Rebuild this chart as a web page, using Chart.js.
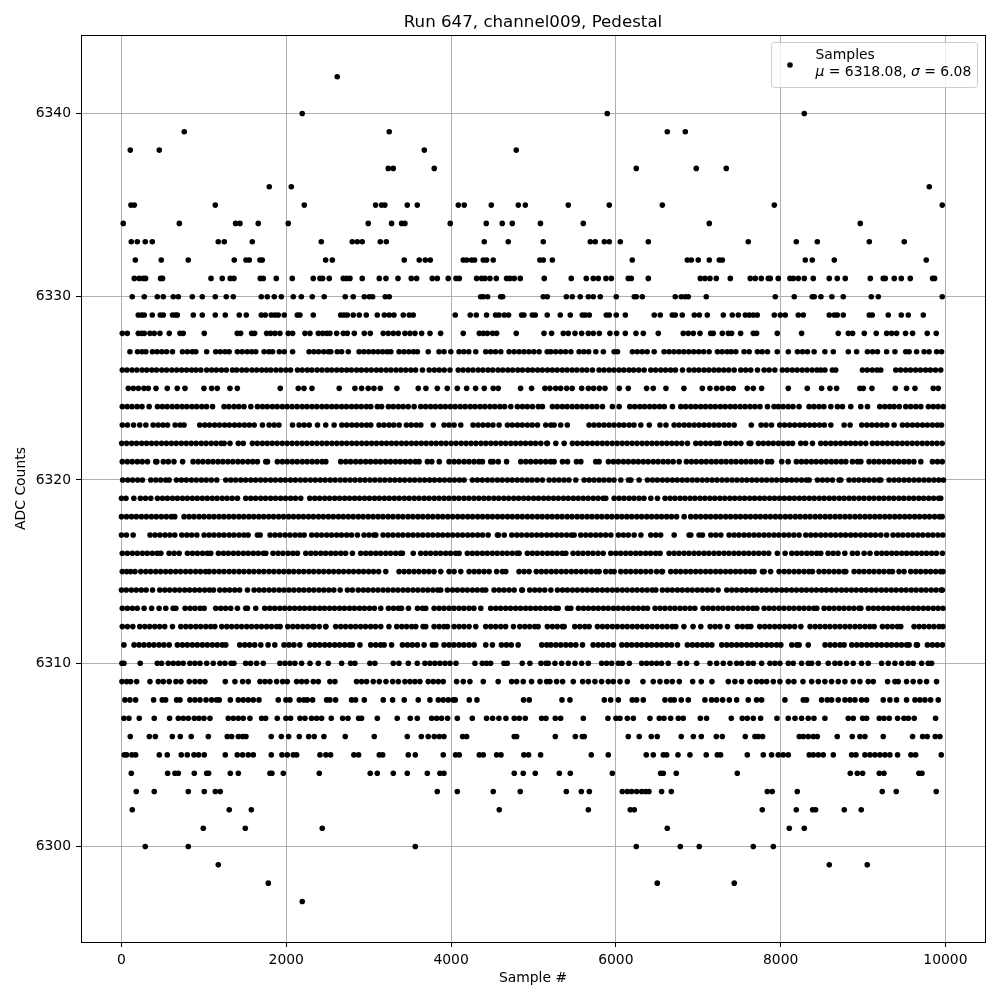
<!DOCTYPE html>
<html>
<head>
<meta charset="utf-8">
<title>Run 647, channel009, Pedestal</title>
<script src="https://cdn.jsdelivr.net/npm/chart.js@4/dist/chart.umd.min.js"></script>
<style>
body { margin: 0; background: #fff; }
canvas { display: block; }
</style>
</head>
<body>
<canvas id="pedestalChart" width="1000" height="1000"></canvas>
<script>
// Tick labels
const xTicks = [0, 2000, 4000, 6000, 8000, 10000];
const yTicks = [6300, 6310, 6320, 6330, 6340];

// Sample numbers, one array per ADC level
const adc6342 = [2619];
const adc6340 = [2194, 5896, 8287];
const adc6339 = [762, 3250, 6624, 6843];
const adc6338 = [107, 459, 3675, 4791];
const adc6337 = [3238, 3299, 3796, 6248, 6976, 7340];
const adc6336 = [1794, 2061, 9804];
const adc6335 = [115, 156, 1139, 2219, 3084, 3157, 3197, 3469, 3590, 4088, 4160, 4488, 4816, 4901, 5423, 5920, 6564, 7923, 9961];
const adc6334 = [22, 702, 1385, 1438, 1660, 2024, 2995, 3278, 3400, 3440, 3990, 4427, 4621, 4743, 5085, 5605, 7134, 8966];
const adc6333 = [119, 192, 289, 374, 1175, 1248, 1588, 2425, 2801, 2862, 2922, 3141, 3214, 4403, 4694, 5119, 5690, 5750, 5860, 5920, 6054, 6394, 7607, 8190, 8445, 9076, 9500];
const adc6332 = [168, 483, 811, 1369, 1511, 1551, 1681, 1709, 2478, 2559, 3432, 3614, 3687, 3748, 4148, 4189, 4249, 4286, 4391, 4431, 4512, 5078, 5119, 5229, 6199, 6867, 6916, 7000, 7134, 7255, 7292, 8299, 8384, 8651, 9767];
const adc6331 = [156, 216, 265, 293, 475, 499, 1087, 1223, 1320, 1365, 1685, 1721, 1879, 2073, 2328, 2409, 2441, 2522, 2692, 2732, 2773, 2922, 3129, 3210, 3356, 3517, 3582, 3772, 3833, 3966, 4060, 4100, 4310, 4371, 4411, 4472, 4549, 4674, 4714, 4767, 4840, 5131, 5459, 5641, 5726, 5787, 5880, 5945, 6151, 6187, 6394, 7025, 7081, 7142, 7219, 7389, 7631, 7692, 7765, 7850, 7874, 7971, 8113, 8153, 8214, 8287, 8396, 8590, 8687, 8784, 9088, 9245, 9270, 9379, 9464, 9573, 9844, 9868];
const adc6330 = [131, 277, 435, 508, 629, 690, 860, 981, 1139, 1272, 1357, 1697, 1770, 1855, 1940, 2085, 2183, 2316, 2461, 2716, 2813, 2947, 3008, 3048, 3202, 3250, 4359, 4391, 4444, 4602, 4626, 5119, 5168, 5399, 5471, 5568, 5666, 5726, 5811, 6005, 6224, 6248, 6321, 6721, 6794, 6843, 6879, 7097, 7935, 8165, 8384, 8408, 8489, 8622, 8760, 9100, 9185, 9961];
const adc6329 = [204, 245, 277, 374, 471, 508, 620, 656, 678, 872, 981, 1139, 1260, 1430, 1515, 1697, 1746, 1818, 1863, 1903, 1976, 2134, 2166, 2328, 2660, 2700, 2741, 2813, 2886, 2971, 3105, 3190, 3250, 3307, 3420, 3493, 3541, 4051, 4233, 4306, 4431, 4540, 4581, 4646, 4698, 4856, 4884, 4986, 5022, 5167, 5326, 5447, 5593, 5629, 5678, 5884, 5920, 6005, 6115, 6466, 6539, 6685, 6721, 6806, 6952, 7013, 7110, 7304, 7413, 7486, 7571, 7619, 7668, 7716, 7923, 7996, 8056, 8214, 8275, 8590, 8651, 8687, 8760, 9076, 9112, 9306, 9464, 9549, 9731];
const adc6328 = [10, 71, 204, 245, 277, 346, 398, 467, 580, 710, 750, 1005, 1405, 1446, 1580, 1616, 1762, 1810, 1863, 1923, 2024, 2077, 2227, 2288, 2389, 2441, 2490, 2530, 2611, 2692, 2741, 2826, 2947, 3020, 3177, 3238, 3299, 3360, 3440, 3501, 3562, 3643, 3744, 3873, 4148, 4343, 4391, 4440, 4504, 4553, 4791, 5128, 5220, 5362, 5423, 5504, 5585, 5666, 5726, 5799, 5928, 6009, 6115, 6244, 6333, 6515, 6818, 6879, 6940, 7021, 7150, 7182, 7292, 7365, 7405, 7514, 7668, 7708, 7959, 8254, 8699, 8821, 8873, 9015, 9160, 9286, 9346, 9407, 9516, 9601, 9779, 9888];
const adc6327 = [103, 195, 250, 296, 376, 432, 490, 548, 619, 740, 800, 860, 902, 1034, 1144, 1200, 1258, 1307, 1407, 1465, 1525, 1580, 1630, 1731, 1790, 1833, 1915, 1976, 2077, 2277, 2335, 2392, 2455, 2510, 2541, 2619, 2672, 2753, 2884, 2942, 3000, 3058, 3115, 3170, 3225, 3269, 3369, 3428, 3487, 3545, 3592, 3723, 3854, 3915, 3997, 4097, 4155, 4215, 4300, 4421, 4480, 4540, 4604, 4704, 4765, 4825, 4885, 4945, 5005, 5069, 5167, 5210, 5270, 5330, 5390, 5454, 5554, 5612, 5670, 5757, 5848, 5979, 6020, 6201, 6260, 6320, 6380, 6465, 6585, 6645, 6705, 6765, 6825, 6885, 6945, 7005, 7065, 7132, 7233, 7290, 7350, 7400, 7456, 7556, 7618, 7718, 7775, 7840, 7959, 8093, 8204, 8265, 8325, 8406, 8537, 8639, 8821, 8922, 9053, 9115, 9175, 9286, 9387, 9518, 9559, 9650, 9741, 9802, 9893, 9953];
const adc6326 = [10, 66, 128, 187, 250, 306, 368, 425, 489, 548, 611, 670, 731, 790, 851, 905, 963, 1034, 1095, 1152, 1214, 1273, 1347, 1398, 1461, 1518, 1583, 1641, 1702, 1759, 1812, 1875, 1934, 1996, 2052, 2136, 2194, 2256, 2311, 2374, 2433, 2495, 2551, 2613, 2672, 2733, 2790, 2854, 2911, 2973, 3032, 3094, 3151, 3213, 3270, 3332, 3391, 3450, 3512, 3570, 3653, 3735, 3797, 3856, 3917, 3987, 4087, 4146, 4208, 4266, 4329, 4387, 4449, 4506, 4570, 4627, 4689, 4747, 4810, 4867, 4931, 4988, 5050, 5108, 5170, 5229, 5288, 5350, 5408, 5470, 5527, 5590, 5648, 5716, 5797, 5857, 5919, 5977, 6039, 6097, 6159, 6216, 6278, 6343, 6424, 6483, 6545, 6604, 6665, 6723, 6809, 6889, 6950, 7008, 7070, 7129, 7191, 7249, 7310, 7370, 7436, 7516, 7576, 7637, 7719, 7799, 7860, 7929, 8021, 8080, 8141, 8200, 8262, 8320, 8382, 8440, 8487, 8537, 8628, 8669, 8992, 9051, 9112, 9170, 9215, 9397, 9456, 9518, 9576, 9638, 9697, 9759, 9817, 9879, 9943];
const adc6325 = [83, 144, 205, 273, 326, 419, 556, 677, 771, 1001, 1094, 1163, 1317, 1406, 1927, 2146, 2215, 2312, 2643, 2833, 2914, 2995, 3064, 3141, 3343, 3602, 3695, 3833, 3954, 4076, 4189, 4298, 4403, 4512, 4573, 4844, 4977, 5139, 5200, 5270, 5330, 5403, 5470, 5585, 5666, 5730, 5800, 5868, 6042, 6151, 6373, 6454, 6608, 6826, 7049, 7142, 7223, 7290, 7364, 7425, 7595, 7668, 7769, 8093, 8323, 8497, 8598, 8679, 8962, 9003, 9108, 9391, 9528, 9630, 9852, 9913];
const adc6324 = [10, 70, 128, 190, 249, 336, 437, 496, 554, 616, 675, 736, 793, 855, 913, 975, 1033, 1105, 1245, 1303, 1366, 1424, 1487, 1570, 1650, 1711, 1769, 1832, 1890, 1952, 2010, 2071, 2131, 2193, 2251, 2312, 2371, 2433, 2491, 2552, 2610, 2672, 2730, 2792, 2851, 2910, 2973, 3026, 3106, 3157, 3240, 3298, 3360, 3418, 3480, 3552, 3632, 3691, 3752, 3810, 3872, 3931, 3992, 4050, 4112, 4171, 4233, 4291, 4352, 4410, 4472, 4531, 4593, 4650, 4725, 4805, 4866, 4925, 4988, 5059, 5109, 5230, 5289, 5350, 5408, 5470, 5529, 5590, 5648, 5710, 5769, 5838, 5958, 6040, 6169, 6228, 6290, 6348, 6410, 6469, 6530, 6588, 6687, 6788, 6847, 6909, 6967, 7029, 7088, 7149, 7207, 7269, 7328, 7389, 7447, 7509, 7568, 7629, 7688, 7749, 7840, 7920, 7971, 8030, 8092, 8150, 8224, 8345, 8404, 8466, 8525, 8609, 8689, 8750, 8851, 8972, 9054, 9203, 9264, 9323, 9377, 9440, 9518, 9578, 9640, 9701, 9793, 9853, 9911, 9973];
const adc6323 = [10, 72, 147, 222, 296, 384, 445, 503, 559, 651, 712, 760, 950, 1011, 1069, 1131, 1190, 1252, 1310, 1372, 1430, 1492, 1551, 1611, 1711, 1792, 1853, 1911, 2076, 2156, 2217, 2279, 2379, 2479, 2581, 2674, 2733, 2795, 2854, 2916, 2975, 3026, 3126, 3185, 3247, 3305, 3370, 3458, 3517, 3579, 3633, 3784, 3915, 3975, 4037, 4118, 4267, 4328, 4388, 4448, 4508, 4583, 4684, 4744, 4806, 4864, 4926, 4985, 5049, 5149, 5211, 5251, 5330, 5411, 5675, 5735, 5795, 5856, 5917, 5977, 6040, 6098, 6161, 6220, 6303, 6406, 6535, 6608, 6707, 6767, 6830, 6888, 6950, 7010, 7071, 7130, 7192, 7250, 7312, 7371, 7436, 7644, 7763, 7822, 7889, 7989, 8049, 8110, 8170, 8232, 8290, 8352, 8411, 8472, 8530, 8609, 8770, 8843, 8984, 9046, 9107, 9167, 9228, 9288, 9377, 9478, 9538, 9600, 9660, 9721, 9780, 9842, 9902, 9952];
const adc6322 = [3, 62, 124, 183, 245, 304, 365, 424, 486, 545, 606, 665, 727, 786, 847, 906, 968, 1027, 1089, 1148, 1209, 1246, 1317, 1418, 1478, 1589, 1648, 1710, 1769, 1830, 1889, 1951, 2010, 2071, 2130, 2192, 2251, 2313, 2372, 2433, 2492, 2554, 2613, 2674, 2733, 2795, 2854, 2916, 2975, 3036, 3095, 3157, 3216, 3277, 3336, 3398, 3457, 3519, 3578, 3639, 3698, 3760, 3819, 3880, 3939, 4001, 4060, 4122, 4181, 4242, 4301, 4363, 4422, 4483, 4542, 4604, 4663, 4725, 4784, 4845, 4904, 4966, 5025, 5089, 5160, 5170, 5271, 5373, 5473, 5532, 5594, 5653, 5715, 5774, 5835, 5894, 5956, 6015, 6077, 6136, 6197, 6256, 6318, 6377, 6438, 6497, 6559, 6618, 6679, 6738, 6800, 6869, 6970, 7029, 7091, 7150, 7212, 7254, 7334, 7393, 7455, 7517, 7617, 7638, 7730, 7789, 7851, 7910, 7972, 8031, 8092, 8144, 8244, 8303, 8386, 8487, 8546, 8608, 8667, 8729, 8788, 8849, 8908, 8970, 9033, 9114, 9173, 9235, 9294, 9356, 9415, 9476, 9535, 9597, 9656, 9718, 9777, 9838, 9897, 9960];
const adc6321 = [10, 72, 131, 193, 252, 316, 416, 429, 508, 568, 637, 742, 869, 930, 989, 1051, 1110, 1172, 1231, 1292, 1351, 1413, 1472, 1534, 1593, 1650, 1751, 1772, 1892, 1953, 2012, 2074, 2133, 2195, 2254, 2315, 2374, 2436, 2480, 2661, 2722, 2781, 2843, 2902, 2964, 3023, 3084, 3143, 3205, 3264, 3326, 3385, 3446, 3505, 3567, 3612, 3713, 3766, 3857, 3976, 4037, 4096, 4158, 4217, 4279, 4338, 4381, 4481, 4510, 4573, 4674, 4846, 4907, 4966, 5028, 5087, 5149, 5208, 5251, 5352, 5413, 5522, 5575, 5756, 5797, 5910, 5971, 6030, 6092, 6151, 6213, 6272, 6333, 6392, 6454, 6513, 6575, 6634, 6695, 6768, 6856, 6917, 6976, 7038, 7097, 7159, 7218, 7279, 7338, 7400, 7459, 7521, 7580, 7641, 7700, 7762, 7840, 7890, 8013, 8091, 8191, 8252, 8311, 8373, 8432, 8494, 8553, 8615, 8674, 8735, 8791, 8871, 8933, 8973, 9073, 9134, 9193, 9255, 9314, 9376, 9435, 9496, 9555, 9617, 9701, 9842, 9903, 9961];
const adc6320 = [14, 76, 135, 197, 255, 356, 417, 476, 538, 579, 667, 728, 787, 849, 908, 970, 1029, 1091, 1157, 1266, 1327, 1386, 1448, 1507, 1569, 1628, 1689, 1748, 1810, 1869, 1931, 1990, 2051, 2110, 2172, 2231, 2293, 2352, 2413, 2472, 2534, 2593, 2655, 2714, 2775, 2834, 2896, 2955, 3016, 3075, 3137, 3196, 3258, 3317, 3378, 3437, 3499, 3558, 3620, 3679, 3740, 3799, 3861, 3920, 3982, 4041, 4102, 4158, 4259, 4320, 4379, 4441, 4500, 4562, 4621, 4683, 4742, 4803, 4862, 4924, 4983, 5045, 5109, 5190, 5251, 5310, 5372, 5431, 5514, 5615, 5676, 5735, 5797, 5856, 5918, 5977, 6060, 6153, 6182, 6282, 6383, 6444, 6503, 6565, 6624, 6686, 6745, 6806, 6865, 6927, 6986, 7048, 7107, 7168, 7227, 7289, 7348, 7410, 7469, 7530, 7589, 7651, 7710, 7771, 7830, 7892, 7951, 8013, 8072, 8133, 8192, 8254, 8313, 8346, 8446, 8507, 8566, 8629, 8709, 8730, 8830, 8891, 8950, 9012, 9071, 9133, 9192, 9215, 9316, 9377, 9436, 9498, 9557, 9619, 9678, 9740, 9799, 9860, 9919, 9975];
const adc6319 = [0, 55, 150, 230, 292, 356, 437, 498, 557, 619, 678, 740, 799, 861, 920, 982, 1041, 1102, 1161, 1223, 1282, 1344, 1408, 1508, 1569, 1628, 1690, 1749, 1811, 1870, 1932, 1991, 2052, 2111, 2176, 2285, 2346, 2405, 2467, 2526, 2588, 2647, 2709, 2768, 2829, 2888, 2950, 3009, 3071, 3130, 3191, 3250, 3312, 3371, 3433, 3492, 3553, 3612, 3674, 3733, 3795, 3854, 3916, 3975, 4036, 4095, 4157, 4216, 4278, 4337, 4398, 4457, 4519, 4578, 4640, 4699, 4761, 4820, 4881, 4940, 5002, 5061, 5123, 5182, 5243, 5302, 5364, 5423, 5485, 5544, 5605, 5664, 5726, 5785, 5847, 5878, 5979, 6040, 6099, 6161, 6220, 6282, 6341, 6424, 6505, 6597, 6658, 6717, 6779, 6838, 6900, 6959, 7021, 7080, 7141, 7200, 7262, 7321, 7383, 7442, 7503, 7562, 7624, 7683, 7745, 7804, 7866, 7925, 7986, 8045, 8107, 8166, 8228, 8287, 8348, 8407, 8469, 8528, 8590, 8649, 8711, 8770, 8831, 8890, 8952, 9011, 9073, 9132, 9193, 9252, 9314, 9373, 9435, 9494, 9556, 9615, 9676, 9735, 9797, 9856, 9918, 9943];
const adc6318 = [0, 61, 122, 181, 243, 302, 364, 423, 485, 544, 605, 647, 760, 821, 880, 942, 1001, 1063, 1122, 1184, 1243, 1304, 1363, 1425, 1484, 1546, 1605, 1667, 1726, 1787, 1846, 1908, 1967, 2029, 2088, 2149, 2208, 2270, 2329, 2391, 2450, 2512, 2571, 2633, 2692, 2753, 2812, 2874, 2933, 2995, 3054, 3115, 3174, 3236, 3295, 3357, 3416, 3478, 3537, 3598, 3657, 3719, 3778, 3840, 3899, 3960, 4019, 4081, 4140, 4202, 4261, 4323, 4382, 4443, 4502, 4564, 4623, 4685, 4744, 4805, 4864, 4926, 4985, 5047, 5106, 5168, 5227, 5288, 5347, 5409, 5468, 5530, 5589, 5651, 5710, 5771, 5830, 5892, 5951, 6013, 6072, 6133, 6192, 6254, 6313, 6375, 6434, 6496, 6555, 6616, 6675, 6737, 6829, 6909, 6970, 7029, 7091, 7150, 7212, 7271, 7333, 7392, 7453, 7512, 7574, 7633, 7695, 7754, 7816, 7875, 7936, 7995, 8057, 8116, 8178, 8237, 8298, 8357, 8419, 8478, 8540, 8599, 8661, 8720, 8781, 8840, 8902, 8961, 9023, 9082, 9143, 9202, 9264, 9323, 9385, 9444, 9506, 9565, 9626, 9685, 9747, 9806, 9868, 9927, 9960];
const adc6317 = [0, 60, 142, 347, 408, 467, 529, 588, 647, 732, 793, 852, 915, 1003, 1064, 1123, 1185, 1244, 1306, 1365, 1427, 1486, 1537, 1650, 1683, 1804, 1865, 1924, 1986, 2045, 2107, 2166, 2217, 2309, 2370, 2429, 2491, 2550, 2612, 2671, 2733, 2792, 2864, 2944, 3005, 3064, 3087, 3175, 3236, 3295, 3357, 3416, 3478, 3537, 3598, 3657, 3719, 3778, 3840, 3899, 3960, 4019, 4081, 4140, 4202, 4261, 4323, 4382, 4450, 4575, 4563, 4646, 4737, 4798, 4857, 4919, 4978, 5040, 5099, 5161, 5220, 5282, 5341, 5403, 5462, 5494, 5574, 5635, 5694, 5756, 5815, 5877, 5939, 6031, 6092, 6151, 6222, 6304, 6424, 6485, 6544, 6708, 6889, 6910, 7010, 7051, 7152, 7213, 7274, 7374, 7435, 7494, 7556, 7615, 7677, 7736, 7798, 7857, 7919, 7978, 8040, 8099, 8161, 8224, 8305, 8366, 8425, 8487, 8546, 8608, 8667, 8729, 8788, 8850, 8909, 8971, 9030, 9092, 9151, 9215, 9286, 9364, 9425, 9484, 9546, 9605, 9667, 9726, 9788, 9847, 9909, 9968];
const adc6316 = [10, 71, 133, 192, 254, 313, 375, 434, 478, 578, 639, 700, 801, 862, 921, 983, 1042, 1084, 1177, 1238, 1297, 1359, 1418, 1480, 1539, 1601, 1660, 1722, 1752, 1840, 1901, 1960, 2022, 2081, 2136, 2237, 2298, 2357, 2419, 2478, 2540, 2599, 2661, 2720, 2803, 2904, 2965, 3024, 3086, 3145, 3207, 3266, 3328, 3387, 3410, 3541, 3632, 3693, 3752, 3814, 3873, 3935, 3994, 4056, 4098, 4198, 4259, 4318, 4380, 4439, 4501, 4560, 4622, 4681, 4743, 4802, 4826, 4926, 4987, 5046, 5108, 5170, 5229, 5288, 5350, 5393, 5481, 5542, 5601, 5663, 5722, 5784, 5846, 5938, 5999, 6058, 6120, 6179, 6241, 6300, 6362, 6421, 6483, 6537, 6646, 6707, 6766, 6828, 6887, 6949, 7008, 7070, 7129, 7191, 7250, 7312, 7371, 7433, 7492, 7554, 7613, 7675, 7734, 7796, 7855, 7960, 8054, 8135, 8196, 8255, 8317, 8376, 8438, 8487, 8576, 8637, 8696, 8779, 8871, 8932, 9013, 9084, 9166, 9227, 9286, 9348, 9407, 9469, 9528, 9590, 9649, 9711, 9770, 9832, 9891, 9963];
const adc6315 = [10, 63, 111, 164, 234, 295, 354, 416, 475, 537, 596, 658, 717, 779, 838, 900, 959, 1021, 1064, 1124, 1185, 1244, 1306, 1365, 1427, 1486, 1548, 1607, 1669, 1728, 1790, 1849, 1911, 1970, 2032, 2091, 2153, 2212, 2274, 2333, 2395, 2454, 2516, 2575, 2637, 2696, 2758, 2817, 2879, 2938, 3000, 3059, 3121, 3208, 3369, 3430, 3489, 3551, 3610, 3672, 3731, 3793, 3875, 3976, 4037, 4118, 4219, 4280, 4339, 4401, 4462, 4553, 4623, 4664, 4825, 4886, 4947, 5035, 5096, 5155, 5217, 5276, 5338, 5397, 5459, 5518, 5580, 5639, 5701, 5760, 5797, 5877, 5938, 5979, 6060, 6121, 6180, 6242, 6301, 6363, 6424, 6495, 6557, 6566, 6666, 6727, 6786, 6848, 6907, 6969, 7028, 7090, 7149, 7211, 7270, 7332, 7391, 7453, 7512, 7574, 7633, 7678, 7779, 7800, 7878, 7981, 8042, 8101, 8163, 8222, 8284, 8343, 8386, 8466, 8527, 8586, 8648, 8707, 8769, 8791, 8891, 8952, 9011, 9073, 9132, 9194, 9253, 9315, 9357, 9437, 9498, 9579, 9640, 9699, 9761, 9820, 9882, 9941, 9970];
const adc6314 = [0, 58, 120, 179, 241, 300, 377, 465, 526, 585, 647, 706, 768, 827, 889, 948, 1010, 1069, 1117, 1193, 1254, 1313, 1375, 1434, 1529, 1610, 1671, 1730, 1792, 1851, 1913, 1972, 2034, 2093, 2155, 2214, 2276, 2335, 2397, 2456, 2518, 2577, 2654, 2742, 2803, 2874, 2935, 2993, 3054, 3113, 3175, 3234, 3296, 3355, 3417, 3476, 3538, 3597, 3659, 3718, 3780, 3839, 3875, 3956, 4017, 4076, 4138, 4197, 4259, 4318, 4380, 4421, 4522, 4583, 4642, 4704, 4766, 4858, 4866, 4955, 5016, 5075, 5137, 5211, 5291, 5352, 5411, 5473, 5532, 5594, 5653, 5715, 5774, 5836, 5895, 5957, 6016, 6078, 6137, 6199, 6258, 6320, 6379, 6441, 6485, 6565, 6626, 6685, 6747, 6806, 6868, 6927, 6989, 7048, 7110, 7169, 7241, 7346, 7407, 7466, 7528, 7587, 7649, 7708, 7770, 7829, 7891, 7950, 8012, 8071, 8133, 8192, 8254, 8313, 8375, 8434, 8496, 8555, 8617, 8676, 8738, 8797, 8859, 8918, 8980, 9039, 9101, 9160, 9222, 9281, 9343, 9402, 9464, 9523, 9585, 9644, 9706, 9765, 9827, 9886, 9948, 9963];
const adc6313 = [10, 71, 133, 192, 275, 366, 457, 538, 627, 660, 772, 833, 892, 954, 1004, 1144, 1205, 1264, 1326, 1408, 1508, 1529, 1630, 1739, 1800, 1859, 1921, 1980, 2042, 2101, 2163, 2222, 2284, 2343, 2405, 2464, 2526, 2585, 2647, 2706, 2768, 2827, 2889, 2948, 3010, 3069, 3147, 3240, 3301, 3360, 3398, 3483, 3592, 3653, 3693, 3794, 3855, 3914, 3976, 4035, 4097, 4156, 4218, 4277, 4361, 4481, 4542, 4601, 4663, 4722, 4784, 4843, 4905, 4964, 5026, 5085, 5147, 5206, 5268, 5300, 5412, 5454, 5546, 5607, 5666, 5728, 5787, 5849, 5908, 5970, 6029, 6091, 6150, 6212, 6271, 6333, 6384, 6476, 6537, 6596, 6658, 6717, 6779, 6838, 6900, 6958, 7059, 7120, 7179, 7241, 7300, 7362, 7421, 7483, 7542, 7604, 7663, 7711, 7799, 7860, 7919, 7981, 8040, 8102, 8161, 8223, 8282, 8344, 8403, 8439, 8527, 8588, 8647, 8709, 8768, 8830, 8889, 8951, 8973, 9065, 9126, 9185, 9247, 9306, 9368, 9427, 9489, 9548, 9610, 9669, 9731, 9790, 9852, 9911, 9970];
const adc6312 = [10, 72, 138, 222, 283, 342, 404, 463, 525, 619, 720, 781, 840, 902, 961, 1023, 1082, 1133, 1217, 1278, 1337, 1399, 1458, 1520, 1579, 1641, 1700, 1762, 1821, 1883, 1926, 2018, 2079, 2138, 2200, 2259, 2321, 2338, 2401, 2479, 2480, 2600, 2661, 2720, 2782, 2841, 2903, 2962, 3024, 3083, 3147, 3246, 3341, 3402, 3461, 3523, 3572, 3660, 3693, 3794, 3855, 3914, 3957, 4037, 4098, 4157, 4219, 4300, 4421, 4482, 4541, 4603, 4662, 4757, 4834, 4895, 4954, 5016, 5057, 5169, 5230, 5289, 5351, 5373, 5501, 5562, 5624, 5676, 5776, 5837, 5896, 5958, 6017, 6079, 6138, 6200, 6259, 6321, 6380, 6442, 6501, 6563, 6622, 6684, 6728, 6826, 6937, 7031, 7144, 7205, 7264, 7355, 7475, 7536, 7595, 7638, 7746, 7807, 7866, 7928, 7987, 8049, 8108, 8170, 8245, 8357, 8418, 8477, 8539, 8598, 8660, 8719, 8781, 8840, 8902, 8961, 9023, 9082, 9135, 9235, 9296, 9355, 9417, 9458, 9619, 9680, 9739, 9801, 9860, 9922, 9970];
const adc6311 = [30, 153, 214, 273, 335, 394, 456, 515, 579, 679, 740, 799, 861, 920, 982, 1041, 1103, 1162, 1224, 1266, 1435, 1496, 1555, 1617, 1691, 1780, 1861, 1973, 2034, 2093, 2165, 2285, 2346, 2405, 2467, 2526, 2588, 2647, 2709, 2768, 2803, 2894, 3025, 3086, 3145, 3188, 3278, 3410, 3471, 3530, 3592, 3673, 3774, 3815, 3915, 3976, 4035, 4097, 4156, 4218, 4280, 4421, 4502, 4611, 4672, 4731, 4814, 5101, 5162, 5211, 5272, 5331, 5393, 5452, 5514, 5595, 5724, 5785, 5844, 5906, 5971, 6072, 6133, 6192, 6254, 6313, 6375, 6434, 6496, 6555, 6617, 6676, 6748, 6868, 6929, 6988, 7050, 7109, 7165, 7285, 7346, 7405, 7467, 7526, 7588, 7647, 7709, 7768, 7830, 7889, 7951, 8002, 8135, 8196, 8224, 8335, 8539, 8600, 8659, 8721, 8770, 8863, 8924, 8983, 9045, 9104, 9166, 9225, 9287, 9346, 9408, 9467, 9529, 9559, 9647, 9660, 9781, 9842, 9901, 9963];
const adc6310 = [6, 30, 228, 435, 487, 568, 629, 690, 750, 831, 892, 953, 1034, 1114, 1195, 1256, 1329, 1365, 1507, 1567, 1640, 1721, 1923, 1984, 2045, 2105, 2186, 2288, 2389, 2510, 2672, 2781, 2833, 3015, 3076, 3299, 3368, 3481, 3590, 3683, 3744, 3804, 3865, 3926, 3987, 4060, 4290, 4379, 4431, 4480, 4642, 4682, 4864, 4957, 5091, 5152, 5180, 5261, 5342, 5423, 5504, 5585, 5666, 5827, 5888, 5949, 6030, 6078, 6163, 6313, 6373, 6434, 6495, 6555, 6636, 6778, 6859, 6980, 7142, 7223, 7304, 7385, 7466, 7526, 7607, 7668, 7769, 7870, 7931, 7991, 8093, 8153, 8254, 8335, 8376, 8457, 8578, 8659, 8720, 8800, 8881, 8982, 9063, 9225, 9306, 9387, 9468, 9549, 9609, 9711, 9791, 9832];
const adc6309 = [6, 63, 111, 184, 346, 447, 508, 580, 661, 722, 823, 892, 953, 1013, 1260, 1377, 1470, 1539, 1681, 1742, 1802, 1883, 1956, 2012, 2126, 2186, 2247, 2328, 2389, 2530, 2591, 2853, 2914, 2975, 3056, 3129, 3210, 3291, 3360, 3440, 3501, 3562, 3622, 3723, 3784, 3845, 3905, 4067, 4148, 4229, 4391, 4572, 4735, 4796, 4876, 4977, 5079, 5160, 5200, 5281, 5354, 5483, 5597, 5666, 5746, 5827, 5908, 5969, 6050, 6139, 6329, 6454, 6535, 6616, 6685, 6770, 6932, 7037, 7166, 7365, 7445, 7526, 7627, 7708, 7769, 7830, 7911, 7991, 8093, 8161, 8271, 8376, 8457, 8537, 8618, 8699, 8780, 8881, 8962, 9063, 9124, 9298, 9387, 9427, 9528, 9609, 9690, 9771, 9892];
const adc6308 = [42, 103, 172, 390, 495, 536, 669, 710, 831, 892, 953, 1026, 1094, 1155, 1187, 1321, 1418, 1478, 1539, 1600, 1669, 1903, 1996, 2045, 2158, 2215, 2255, 2320, 2490, 2530, 2599, 2793, 2841, 2947, 3177, 3291, 3432, 3602, 3744, 3845, 3905, 3966, 4027, 4051, 4221, 4314, 4880, 4949, 5346, 5443, 5860, 5937, 6030, 6199, 6252, 6333, 6596, 6665, 6709, 6794, 6879, 7081, 7162, 7223, 7296, 7377, 7466, 7607, 7708, 7769, 8052, 8275, 8315, 8497, 8566, 8618, 8699, 8780, 8841, 8902, 8982, 9043, 9245, 9326, 9407, 9528, 9630, 9690, 9751, 9820, 9913];
const adc6307 = [30, 91, 216, 398, 584, 690, 750, 811, 884, 940, 1001, 1074, 1296, 1357, 1418, 1478, 1559, 1701, 1750, 1891, 1996, 2053, 2166, 2227, 2307, 2368, 2429, 2546, 2684, 2749, 2878, 2914, 3105, 3347, 3505, 3590, 3764, 3825, 3885, 3958, 4076, 4258, 4431, 4504, 4581, 4666, 4767, 4828, 4901, 5099, 5152, 5265, 5330, 5605, 5904, 6001, 6050, 6139, 6212, 6414, 6527, 6584, 6665, 6758, 6818, 7025, 7101, 7401, 7534, 7595, 7668, 7757, 7955, 8093, 8174, 8254, 8335, 8404, 8537, 8821, 8881, 8995, 9043, 9197, 9254, 9318, 9419, 9496, 9549, 9621, 9880];
const adc6306 = [107, 338, 411, 617, 714, 847, 1054, 1284, 1337, 1418, 1470, 1511, 1818, 1940, 2029, 2158, 2272, 2340, 2457, 2716, 3068, 3469, 3639, 3723, 3796, 3857, 3914, 4140, 4189, 4767, 4796, 5265, 5508, 5593, 5617, 6151, 6284, 6430, 6503, 6794, 6940, 7037, 7219, 7292, 7571, 7688, 7728, 7781, 8226, 8275, 8335, 8396, 8445, 8687, 8869, 8962, 9023, 9245, 9601, 9723, 9779, 9876, 9933];
const adc6305 = [34, 63, 127, 172, 459, 556, 726, 799, 880, 936, 1005, 1260, 1405, 1470, 1539, 1600, 1818, 1948, 2012, 2085, 2126, 2409, 2481, 2538, 2821, 2878, 3129, 3170, 3481, 3566, 3905, 4055, 4100, 4343, 4391, 4553, 4606, 4884, 4941, 5087, 5702, 5908, 6369, 6454, 6576, 6616, 6754, 6899, 7097, 7231, 7271, 7595, 7789, 7890, 7971, 8032, 8093, 8347, 8396, 8457, 8517, 8639, 8861, 8914, 9023, 9084, 9144, 9205, 9266, 9326, 9419, 9581, 9638, 9949];
const adc6304 = [119, 560, 649, 690, 884, 1034, 1058, 1321, 1418, 1802, 1826, 1964, 2401, 3019, 3105, 3299, 3469, 3712, 3865, 3914, 4767, 4876, 5022, 5314, 5447, 5957, 6543, 6576, 6733, 7474, 8845, 8930, 8995, 9197, 9254, 9678, 9715];
const adc6303 = [180, 398, 811, 1005, 1139, 1199, 3833, 4076, 4512, 4840, 5399, 5581, 5678, 6078, 6139, 6191, 6252, 6313, 6361, 6402, 6555, 6673, 7838, 7898, 8202, 9233, 9403, 9888];
const adc6302 = [131, 1308, 1576, 4585, 5666, 6175, 6224, 7777, 8190, 8388, 8424, 8772, 8978];
const adc6301 = [993, 1503, 2437, 6624, 8105, 8287];
const adc6300 = [289, 811, 3566, 6248, 6782, 7012, 7668, 7911];
const adc6299 = [1175, 8590, 9051];
const adc6298 = [1782, 6503, 7437];
const adc6297 = [2194];

const levels = [6342, 6340, 6339, 6338, 6337, 6336, 6335, 6334, 6333, 6332, 6331, 6330, 6329, 6328, 6327, 6326, 6325, 6324, 6323, 6322, 6321, 6320, 6319, 6318, 6317, 6316, 6315, 6314, 6313, 6312, 6311, 6310, 6309, 6308, 6307, 6306, 6305, 6304, 6303, 6302, 6301, 6300, 6299, 6298, 6297];
const samplesByLevel = [adc6342, adc6340, adc6339, adc6338, adc6337, adc6336, adc6335, adc6334, adc6333, adc6332, adc6331, adc6330, adc6329, adc6328, adc6327, adc6326, adc6325, adc6324, adc6323, adc6322, adc6321, adc6320, adc6319, adc6318, adc6317, adc6316, adc6315, adc6314, adc6313, adc6312, adc6311, adc6310, adc6309, adc6308, adc6307, adc6306, adc6305, adc6304, adc6303, adc6302, adc6301, adc6300, adc6299, adc6298, adc6297];

const points = [];
levels.forEach((level, i) => {
    samplesByLevel[i].forEach(sample => points.push({ x: sample, y: level }));
});

const fontFamily = "'DejaVu Sans', sans-serif";

// Box around the axes, plus the legend with its italic mu and sigma
const framePlugin = {
    id: 'frame',
    afterDraw(chart) {
        const ctx = chart.ctx;
        const a = chart.chartArea;
        ctx.save();
        ctx.strokeStyle = '#000';
        ctx.lineWidth = 1;
        ctx.strokeRect(a.left + 0.5, a.top + 0.5, a.right - a.left, a.bottom - a.top);

        ctx.beginPath();
        ctx.roundRect(771.5, 42.5, 206, 45, 3);
        ctx.fillStyle = 'rgba(255,255,255,0.8)';
        ctx.fill();
        ctx.strokeStyle = '#cccccc';
        ctx.stroke();

        ctx.fillStyle = '#000';
        ctx.beginPath();
        ctx.arc(790, 65, 2.8, 0, Math.PI * 2);
        ctx.fill();

        ctx.textBaseline = 'alphabetic';
        ctx.textAlign = 'left';
        const parts = [['italic', '\u03bc'], ['normal', ' = 6318.08, '], ['italic', '\u03c3'], ['normal', ' = 6.08']];
        ctx.font = '13.9px ' + fontFamily;
        ctx.fillText('Samples', 815.5, 59);
        let x = 815.5;
        parts.forEach(p => {
            ctx.font = p[0] + ' 13.9px ' + fontFamily;
            ctx.fillText(p[1], x, 76);
            x += ctx.measureText(p[1]).width;
        });
        ctx.restore();
    }
};

new Chart(document.getElementById('pedestalChart').getContext('2d'), {
    type: 'scatter',
    data: {
        datasets: [{
            label: 'Samples',
            data: points,
            backgroundColor: '#000',
            borderColor: '#000',
            borderWidth: 0,
            pointRadius: 2.8,
            pointHoverRadius: 2.8
        }]
    },
    options: {
        responsive: false,
        animation: false,
        events: [],
        layout: { padding: { top: 0, right: 15, bottom: 0, left: 0 } },
        plugins: {
            legend: { display: false },
            tooltip: { enabled: false },
            title: {
                display: true,
                text: 'Run 647, channel009, Pedestal',
                color: '#000',
                fullSize: false,
                font: { family: fontFamily, size: 16.67, weight: 'normal', lineHeight: 1.2 },
                padding: { top: 13, bottom: 2 }
            }
        },
        scales: {
            x: {
                type: 'linear',
                min: -491,
                max: 10480,
                afterFit: scale => { scale.height = 58; },
                afterBuildTicks: scale => { scale.ticks = xTicks.map(v => ({ value: v })); },
                border: { display: false },
                grid: { color: '#b0b0b0', lineWidth: 1, tickColor: '#000', tickLength: 5 },
                ticks: {
                    color: '#000',
                    maxRotation: 0,
                    autoSkip: false,
                    padding: 5,
                    font: { family: fontFamily, size: 13.9 },
                    callback: value => String(value)
                },
                title: {
                    display: true,
                    text: 'Sample #',
                    color: '#000',
                    font: { family: fontFamily, size: 13.9 },
                    padding: { top: 0, bottom: 13 }
                }
            },
            y: {
                type: 'linear',
                min: 6294.79,
                max: 6344.28,
                afterFit: scale => { scale.width = 81; },
                afterBuildTicks: scale => { scale.ticks = yTicks.map(v => ({ value: v })); },
                border: { display: false },
                grid: { color: '#b0b0b0', lineWidth: 1, tickColor: '#000', tickLength: 5 },
                ticks: {
                    color: '#000',
                    autoSkip: false,
                    padding: 5,
                    font: { family: fontFamily, size: 13.9 },
                    callback: value => String(value)
                },
                title: {
                    display: true,
                    text: 'ADC Counts',
                    color: '#000',
                    font: { family: fontFamily, size: 13.9 },
                    padding: { top: 13, bottom: 0 }
                }
            }
        }
    },
    plugins: [framePlugin]
});
</script>
</body>
</html>
